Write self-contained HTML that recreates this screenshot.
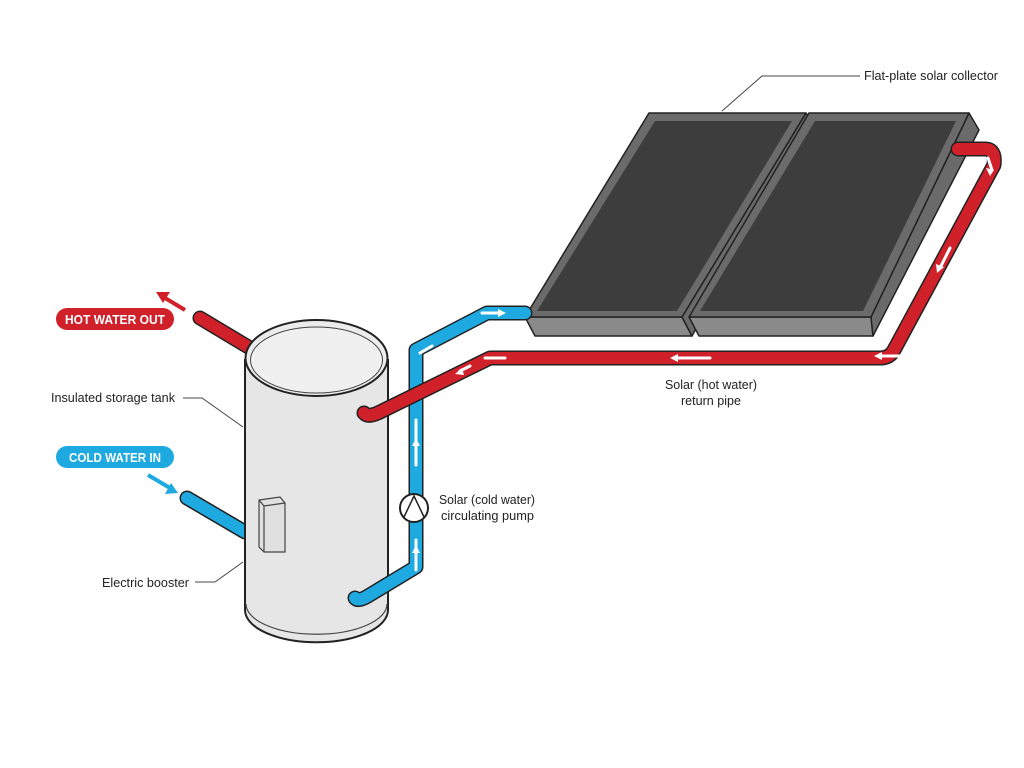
<!DOCTYPE html>
<html><head><meta charset="utf-8"><style>
html,body{margin:0;padding:0;background:#fff;}
svg{display:block;}
text{font-family:"Liberation Sans",sans-serif;}
</style></head><body>
<svg width="1024" height="768" viewBox="0 0 1024 768" xmlns="http://www.w3.org/2000/svg">
<rect width="1024" height="768" fill="#fff"/>
<g stroke-linecap="round" stroke-linejoin="round" fill="none">
<path d="M200 318 L250 348" stroke="#222" stroke-width="15"/>
<path d="M200 318 L250 348" stroke="#d0202a" stroke-width="12"/>
<path d="M187 498 L245 532" stroke="#222" stroke-width="15"/>
<path d="M187 498 L245 532" stroke="#1ea9e1" stroke-width="12"/>
</g>
<path d="M185 310 L165 298" stroke="#d0202a" stroke-width="4"/>
<polygon points="156,292 170,292 163,303" fill="#d0202a"/>
<path d="M148 475 L170 488" stroke="#1ea9e1" stroke-width="4"/>
<polygon points="178,493 165,494 171,483" fill="#1ea9e1"/>
<!-- tank -->
<path d="M245 360 L245 610 A71 32 0 0 0 388 610 L388 360 Z" fill="#e6e6e6" stroke="#222" stroke-width="2"/>
<path d="M246 604 A70 30 0 0 0 387 604" fill="none" stroke="#444" stroke-width="1.2"/>
<ellipse cx="316.5" cy="358" rx="71" ry="38" fill="#ececec" stroke="#222" stroke-width="2"/>
<ellipse cx="316.5" cy="360" rx="66" ry="33" fill="#f0f0f0" stroke="#444" stroke-width="1"/>
<polygon points="259,500 280,497 285,503 285,552 264,552 259,547" fill="#e0e0e0" stroke="#444" stroke-width="1.2"/>
<path d="M259 500 L264 506 L285 503 M264 506 L264 552" stroke="#444" stroke-width="1.2" fill="none"/>
<!-- solar panels -->
<g stroke="#222" stroke-width="1.5" stroke-linejoin="round">
<polygon points="525,317 682,317 692,336 535,336" fill="#8a8a8a"/>
<polygon points="682,317 806,113 811,120 692,336" fill="#6a6a6a"/>
<polygon points="649,113 806,113 682,317 525,317" fill="#6b6b6b"/>
<polygon points="689,317 871,317 873,336 699,336" fill="#8a8a8a"/>
<polygon points="871,317 969,113 979,130 873,336" fill="#6a6a6a"/>
<polygon points="809,113 969,113 871,317 689,317" fill="#6b6b6b"/>
</g>
<polygon points="655,121 792,121 677,311 537,311" fill="#3d3d3d"/>
<polygon points="815,121 956,121 863,311 700,311" fill="#3d3d3d"/>
<!-- pipes -->
<g stroke-linecap="round" stroke-linejoin="round" fill="none">
<path d="M525 313 L487 313 L416 350 L416 567 L368 596 Q358 602 355 598" stroke="#222" stroke-width="15"/>
<path d="M525 313 L487 313 L416 350 L416 567 L368 596 Q358 602 355 598" stroke="#1ea9e1" stroke-width="12"/>
<path d="M958 149 L985 149 Q996 149 994 165 L894 350 Q890 358 880 358 L490 358 L380 412 Q368 418 364 413" stroke="#222" stroke-width="15"/>
<path d="M958 149 L985 149 Q996 149 994 165 L894 350 Q890 358 880 358 L490 358 L380 412 Q368 418 364 413" stroke="#d0202a" stroke-width="12"/>
<g stroke="#fff" stroke-width="3">
<path d="M482 313 L500 313"/><path d="M420 353 L432 346"/>
<path d="M416 420 L416 465"/><path d="M416 540 L416 570"/>
<path d="M988 158 L992 170"/><path d="M950 248 L940 268"/>
<path d="M905 356 L880 356"/><path d="M710 358 L676 358"/>
<path d="M505 358 L485 358"/><path d="M470 366 L460 371"/>
</g>
</g>
<g fill="#fff">
<polygon points="506,313 498,309 498,317"/><polygon points="416,438 412,446 420,446"/>
<polygon points="416,545 412,553 420,553"/><polygon points="990,176 986,168 994,170"/>
<polygon points="937,273 936,264 944,267"/><polygon points="874,356 882,352 882,360"/>
<polygon points="670,358 678,354 678,362"/><polygon points="455,374 462,368 464,375"/>
</g>
<circle cx="414" cy="508" r="14" fill="#fff" stroke="#222" stroke-width="2"/>
<path d="M404 517 L414 496 L424 517" fill="none" stroke="#222" stroke-width="1.5"/>
<g stroke="#444" stroke-width="1" fill="none">
<path d="M183 398 L202 398 L243 427"/>
<path d="M195 582 L215 582 L243 562"/>
<path d="M722 111 L762 76 L860 76"/>
</g>
<rect x="56" y="308" width="118" height="22" rx="11" fill="#d0202a"/>
<text x="115" y="324" font-size="13" font-weight="bold" fill="#fff" text-anchor="middle" textLength="100" lengthAdjust="spacingAndGlyphs">HOT WATER OUT</text>
<rect x="56" y="446" width="118" height="22" rx="11" fill="#1ea9e1"/>
<text x="115" y="462" font-size="13" font-weight="bold" fill="#fff" text-anchor="middle" textLength="92" lengthAdjust="spacingAndGlyphs">COLD WATER IN</text>
<g font-size="13" fill="#222">
<text x="51" y="402" textLength="124" lengthAdjust="spacingAndGlyphs">Insulated storage tank</text>
<text x="102" y="587" textLength="87" lengthAdjust="spacingAndGlyphs">Electric booster</text>
<text x="864" y="80" textLength="134" lengthAdjust="spacingAndGlyphs">Flat-plate solar collector</text>
<text x="439" y="504" textLength="96" lengthAdjust="spacingAndGlyphs">Solar (cold water)</text>
<text x="441" y="520" textLength="93" lengthAdjust="spacingAndGlyphs">circulating pump</text>
<text x="711" y="389" text-anchor="middle" textLength="92" lengthAdjust="spacingAndGlyphs">Solar (hot water)</text>
<text x="711" y="405" text-anchor="middle" textLength="60" lengthAdjust="spacingAndGlyphs">return pipe</text>
</g>
</svg>
</body></html>
